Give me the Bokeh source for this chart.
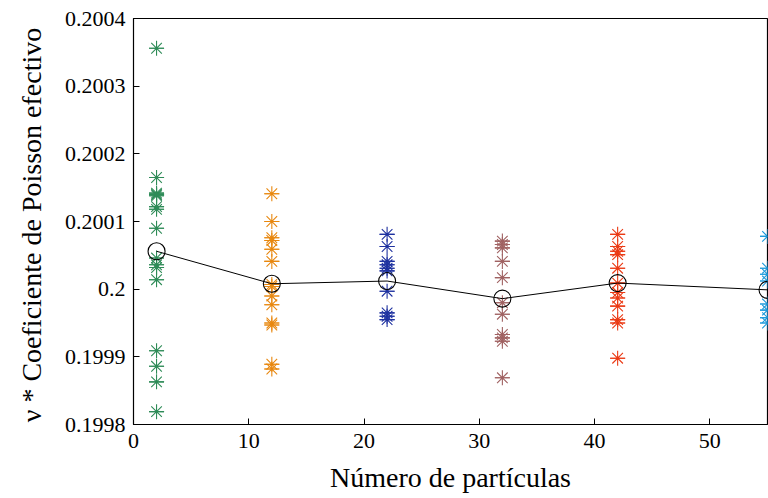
from bokeh.plotting import figure
from bokeh.models import FixedTicker, Range1d
from bokeh.embed import file_html
from bokeh.resources import INLINE

# Data
particles = [2, 12, 22, 32, 42, 55]
green_vals = [0.200356, 0.200165, 0.200142, 0.200140, 0.200138, 0.200122, 0.200118, 0.200090,
              0.200046, 0.200036, 0.200032, 0.200014, 0.199909, 0.199886, 0.199863, 0.199819]
orange_vals = [0.200141, 0.200100, 0.200076, 0.200072, 0.200059, 0.200041, 0.200007, 0.200004,
               0.199990, 0.199977, 0.199950, 0.199947, 0.199889, 0.199882]
blue_vals = [0.200081, 0.200063, 0.200041, 0.200036, 0.200031, 0.200027, 0.199997,
             0.199965, 0.199960, 0.199955]
brown_vals = [0.200071, 0.200066, 0.200061, 0.200041, 0.200017, 0.199980, 0.199963,
              0.199933, 0.199928, 0.199923, 0.199869]
red_vals = [0.200081, 0.200063, 0.200056, 0.200051, 0.200031, 0.200009, 0.199995,
            0.199987, 0.199975, 0.199955, 0.199950, 0.199898]
cyan_vals = [0.200078, 0.200031, 0.200022, 0.200012, 0.199978, 0.199969, 0.199958, 0.199950]
mean_vals = [0.200056, 0.200008, 0.200012, 0.199986, 0.200009, 0.199999]

series_vals = [green_vals, orange_vals, blue_vals, brown_vals, red_vals, cyan_vals]
series_colors = ["#2E8B57", "#E8870E", "#1F32A0", "#A06262", "#EB3A14", "#1E9ADC"]

x_ticks = [0, 10, 20, 30, 40, 50]
y_ticks = [0.1998, 0.1999, 0.2, 0.2001, 0.2002, 0.2003, 0.2004]
y_tick_labels = ["0.1998", "0.1999", "0.2", "0.2001", "0.2002", "0.2003", "0.2004"]

FONT = "Liberation Serif"

p = figure(width=768, height=498, output_backend="svg", toolbar_location=None,
           x_range=Range1d(0, 55), y_range=Range1d(0.1998, 0.2004),
           min_border_left=133, min_border_right=1, min_border_top=18, min_border_bottom=74)
p.background_fill_color = "white"
p.border_fill_color = "white"
p.outline_line_color = "black"
p.outline_line_width = 1.2
p.grid.visible = False

for xv, vals, col in zip(particles, series_vals, series_colors):
    xs = [xv] * len(vals)
    p.scatter(xs, vals, marker="asterisk", size=15, line_color=col, line_width=1.1)
    p.scatter(xs, vals, marker="dash", size=15, line_color=col, line_width=1.1)

p.line(particles, mean_vals, line_color="black", line_width=1)
p.scatter(particles, mean_vals, marker="circle", size=17, fill_color=None,
          line_color="black", line_width=1.1)

p.axis.axis_line_color = "black"
p.axis.major_tick_in = 6
p.axis.major_tick_out = 0
p.axis.minor_tick_line_color = None
p.axis.major_tick_line_color = "black"
p.axis.major_label_text_font = FONT
p.axis.major_label_text_font_size = "22px"
p.axis.major_label_text_font_style = "normal"
p.axis.major_label_text_color = "black"
p.axis.axis_label_text_font = FONT
p.axis.axis_label_text_font_size = "28px"
p.axis.axis_label_text_font_style = "normal"
p.axis.axis_label_text_color = "black"

p.xaxis[0].ticker = FixedTicker(ticks=x_ticks)
p.xaxis[0].major_label_standoff = 9
p.xaxis[0].axis_label = "Número de partículas"
p.xaxis[0].axis_label_standoff = 11

p.yaxis[0].ticker = FixedTicker(ticks=y_ticks)
p.yaxis[0].major_label_overrides = {t: l for t, l in zip(y_ticks, y_tick_labels)}
p.yaxis[0].major_label_standoff = 8
p.yaxis[0].axis_label = "ν *  Coeficiente de Poisson efectivo"
p.yaxis[0].axis_label_standoff = 15

open("out.html", "w").write(file_html(p, INLINE))
